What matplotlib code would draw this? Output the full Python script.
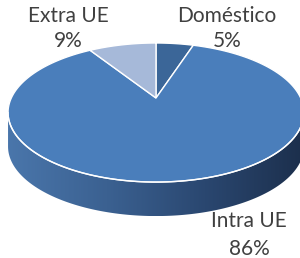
import numpy as np
import matplotlib
matplotlib.use('Agg')
import matplotlib.pyplot as plt
from matplotlib.patches import Polygon
from matplotlib.colors import LinearSegmentedColormap

# data
labels = ['Doméstico', 'Intra UE', 'Extra UE']
values = [5, 86, 9]
colors = ['#3b6698', '#4a7ebb', '#a6b9d9']

# pie geometry (pixels, y down) with a bit of perspective
cx, cy = 156, 98
rx, ry = 144.7, 66.5
persp = 0.209
depth = 34


def project(theta, r=1.0):
    # theta: clockwise from 12 o'clock, in radians
    u = r * np.sin(theta)
    w = -r * np.cos(theta)
    k = 1 - persp * w
    return cx + rx * u / k, cy + ry * w / k


def front(phi):
    u, w = np.cos(phi), np.sin(phi)
    k = 1 - persp * w
    return cx + rx * u / k, cy + ry * w / k


fig = plt.figure(figsize=(3.0, 2.58), dpi=100)
ax = fig.add_axes([0, 0, 1, 1])
ax.set_xlim(0, 300)
ax.set_ylim(258, 0)
ax.axis('off')

# side wall of the front arc
p0 = np.arcsin(persp)
phis = np.linspace(p0, np.pi - p0, 200)
tx, ty = front(phis)
side = np.concatenate([np.column_stack([tx, ty]),
                       np.column_stack([tx[::-1], ty[::-1] + depth])])
side_patch = Polygon(side, closed=True, facecolor='none', edgecolor='none')
ax.add_patch(side_patch)
cmap = LinearSegmentedColormap.from_list('side', ['#4a76ab', '#3b6191', '#2a4770', '#1c2f4c'])
grad = np.linspace(0, 1, 256).reshape(1, -1)
img = ax.imshow(grad, cmap=cmap, extent=[tx.min(), tx.max(), ty.max() + depth, ty.min()],
                aspect='auto', zorder=1)
img.set_clip_path(side_patch)

# top faces
bounds = np.concatenate([[0], np.cumsum(values)]) / sum(values) * 2 * np.pi
for i, lab in enumerate(labels):
    th = np.linspace(bounds[i], bounds[i + 1], 200)
    x, y = project(th)
    pts = np.column_stack([np.r_[cx, x], np.r_[cy, y]])
    ax.add_patch(Polygon(pts, closed=True, facecolor=colors[i], edgecolor='white',
                         linewidth=1.0, zorder=2))

# highlight on front rim
ax.plot(tx, ty, color='white', lw=1.0, zorder=3)

# labels
tc = '#404040'
fs = 15
font = 'Lato'
ax.text(68, 22, 'Extra UE', ha='center', va='baseline', fontsize=fs, color=tc, family=font)
ax.text(68, 47, '9%', ha='center', va='baseline', fontsize=fs, color=tc, family=font)
ax.text(227, 22, 'Doméstico', ha='center', va='baseline', fontsize=fs, color=tc, family=font)
ax.text(227, 47, '5%', ha='center', va='baseline', fontsize=fs, color=tc, family=font)
ax.text(249, 227, 'Intra UE', ha='center', va='baseline', fontsize=fs, color=tc, family=font)
ax.text(249, 255, '86%', ha='center', va='baseline', fontsize=fs, color=tc, family=font)

fig.savefig('out.png', dpi=100)
